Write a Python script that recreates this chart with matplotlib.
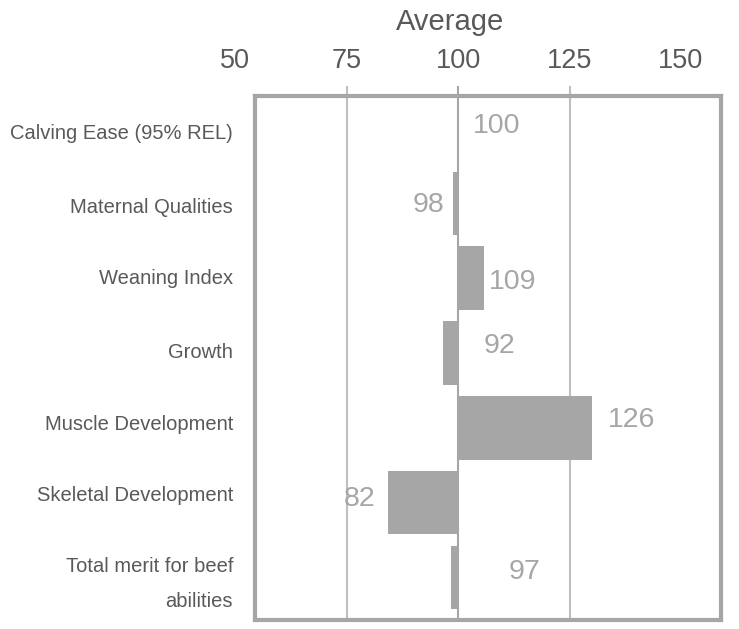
import matplotlib
matplotlib.use("Agg")
import matplotlib.pyplot as plt
import matplotlib.transforms as mtransforms

# data
categories = ['Calving Ease (95% REL)', 'Maternal Qualities', 'Weaning Index', 'Growth',
              'Muscle Development', 'Skeletal Development', 'Total merit for beef\nabilities']
bar_ends = [100, 98.9, 105.8, 96.6, 130.0, 84.3, 98.4]   # bar end as drawn
value_labels = ['100', '98', '109', '92', '126', '82', '97']
ticks = [50, 75, 100, 125, 150]
baseline = 100

# layout (positions of the text labels)
label_x = [108.7, 93.3, 112.3, 109.4, 139.0, 78.0, 115.0]
label_y = [-0.03, 1.02, 2.05, 2.91, 3.90, 4.95, 5.93]
cat_y = [0.06, 1.05, 2.0, 2.99, 3.96, 4.90, 6.09]

plt.rcParams['font.family'] = ['Liberation Sans', 'DejaVu Sans']

fig = plt.figure(figsize=(7.39, 6.29), dpi=100)
ax = fig.add_axes([255 / 739, 1 - 620 / 629, 466 / 739, 524 / 629])

bar_col = '#a6a6a6'
rows = list(range(len(categories)))

# gridlines, slightly poking above the frame
for t in [75, 100, 125]:
    ax.axvline(t, ymin=0, ymax=1.018, color='#a6a6a6' if t == 100 else '#bfbfbf',
               lw=1.5, clip_on=False, zorder=1)

widths = [v - baseline for v in bar_ends]
ax.barh(rows, widths, left=baseline, height=0.85, color=bar_col, zorder=2)

for x, y, s in zip(label_x, label_y, value_labels):
    ax.text(x, y, s, ha='center', va='center', fontsize=20.5, color='#a6a6a6', zorder=3)

ax.set_xlim(54.48, 158.97)
ax.set_ylim(6.57, -0.436)
ax.set_xticks([])
ax.set_yticks([])
for sp in ax.spines.values():
    sp.set_color('#a6a6a6')
    sp.set_linewidth(3)
    sp.set_zorder(4)

trans = mtransforms.blended_transform_factory(ax.transData, ax.transAxes)
for t in ticks:
    ax.text(t, 1.067, str(t), transform=trans, ha='center', va='center',
            fontsize=19.5, color='#595959', clip_on=False)
ax.text(0.418, 1.141, 'Average', transform=ax.transAxes, ha='center', va='center',
        fontsize=21, color='#595959')

trans_y = mtransforms.blended_transform_factory(ax.transAxes, ax.transData)
for y, c in zip(cat_y, categories):
    ax.text(-0.047, y, c, transform=trans_y, ha='right', va='center', fontsize=14.5,
            color='#595959', linespacing=2.05, multialignment='right')

fig.savefig('out.png', dpi=100)
